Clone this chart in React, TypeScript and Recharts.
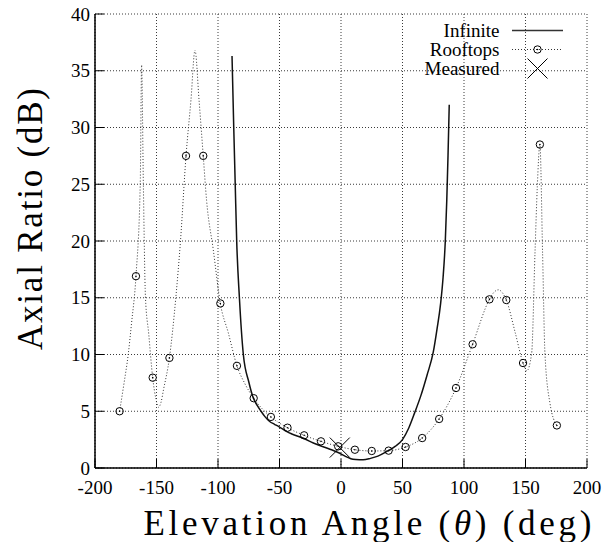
import React from 'react';
import { ComposedChart, Line, Scatter, XAxis, YAxis, CartesianGrid } from 'recharts';

const xTicks = [-200, -150, -100, -50, 0, 50, 100, 150, 200];
const yTicks = [0, 5, 10, 15, 20, 25, 30, 35, 40];

const seriesNames = ['Infinite', 'Rooftops', 'Measured'];

const infiniteX = [-88.6, -87.2, -86, -84.8, -82.6, -79.4, -75, -71.2, -68, -65, -62, -58, -54, -50, -44, -40, -30, -22.5, -10, -1, 4, 8, 12, 18, 24, 30, 37, 44, 50, 55, 60, 65, 70, 75, 78, 81, 83, 84.8, 86, 87, 88];
const infiniteY = [36.3, 30, 25, 20, 15, 10, 7.6, 6.14, 5.5, 5.0, 4.55, 4.1, 3.85, 3.6, 3.2, 3.0, 2.6, 2.2, 1.7, 1.3, 1.0, 0.82, 0.75, 0.72, 0.85, 1.05, 1.44, 1.9, 2.5, 3.5, 4.9, 6.4, 8.2, 10.2, 12.2, 14.5, 16.8, 20, 23.6, 27.5, 32];

const rooftopsLineX = [-180, -176.5, -173, -170.3, -166.7, -163.2, -162.1, -160.7, -159, -156.3, -153.1, -150.5, -148.4, -146.3, -144.3, -139.5, -134.3, -130.5, -126, -122, -118.7, -115.4, -112, -109.3, -103.8, -98.1, -91.6, -84.6, -78, -71, -57, -43.5, -30, -16.3, -2.3, 11.3, 25, 38.7, 52.5, 66, 79.8, 93.5, 107, 120.7, 124.5, 128, 131.5, 134.4, 141.7, 148, 151, 155, 157.7, 159.6, 161.7, 163.9, 165.8, 169.9, 175.5];
const rooftopsLineY = [5.0, 7.4, 10.0, 12.75, 16.9, 25.1, 35.5, 25.1, 15.1, 11.8, 7.96, 6.1, 5.35, 5.8, 6.9, 9.7, 15, 20, 27.5, 32.4, 36.8, 32.4, 27.5, 23.6, 19.2, 14.5, 11.9, 9.0, 7.4, 6.15, 4.5, 3.55, 2.88, 2.35, 1.91, 1.61, 1.5, 1.53, 1.85, 2.64, 4.32, 7.05, 10.9, 14.86, 15.5, 15.7, 15.4, 14.8, 11.9, 9.25, 8.55, 10.1, 18.9, 24.8, 28.5, 18.9, 10.1, 5.7, 3.75];

const rooftopsMarkX = [-180, -166.7, -153.1, -139.5, -126, -112, -98.1, -84.6, -71, -57, -43.5, -30, -16.3, -2.3, 11.3, 25, 38.7, 52.5, 66, 79.8, 93.5, 107, 120.7, 134.4, 148, 161.7, 175.5];
const rooftopsMarkY = [5.0, 16.9, 7.96, 9.7, 27.5, 27.5, 14.5, 9.0, 6.15, 4.5, 3.55, 2.88, 2.35, 1.91, 1.61, 1.5, 1.53, 1.85, 2.64, 4.32, 7.05, 10.9, 14.86, 14.8, 9.25, 28.5, 3.75];

const measuredX = [-1];
const measuredY = [1.8];

const pts = (xs: number[], ys: number[]) => xs.map((x, i) => ({ x, y: ys[i] }));
const infiniteData = pts(infiniteX, infiniteY);
const rooftopsLine = pts(rooftopsLineX, rooftopsLineY);
const rooftopsMarks = pts(rooftopsMarkX, rooftopsMarkY);
const measuredData = pts(measuredX, measuredY);

const FONT = 'Liberation Serif';
const W = 615;
const H = 542;

const CircleMark = (props: any) => {
  const { cx, cy } = props;
  if (cx == null || cy == null) return null;
  return (
    <g>
      <circle cx={cx} cy={cy} r={3.7} fill="none" stroke="#000" strokeWidth={1} />
      <circle cx={cx} cy={cy} r={0.8} fill="#000" />
    </g>
  );
};

const CrossMark = (props: any) => {
  const { cx, cy } = props;
  if (cx == null || cy == null) return null;
  const s = 10;
  return (
    <g stroke="#000" strokeWidth={1}>
      <line x1={cx - s} y1={cy - s} x2={cx + s} y2={cy + s} />
      <line x1={cx - s} y1={cy + s} x2={cx + s} y2={cy - s} />
    </g>
  );
};

const XTitle = (props: any) => {
  const vb = props.viewBox || {};
  const cx = vb.x + vb.width / 2 + 26.5;
  const y = vb.y + 67;
  return (
    <text x={cx} y={y} textAnchor="middle" fontFamily={FONT} fontSize={35} fill="#000" textLength={448} lengthAdjust="spacing">
      Elevation Angle (<tspan fontStyle="italic">θ</tspan>) (deg)
    </text>
  );
};

const YTitle = (props: any) => {
  const vb = props.viewBox || {};
  const x = vb.x + 7;
  const cy = vb.y + vb.height / 2 - 22;
  return (
    <text x={x} y={cy} transform={`rotate(-90, ${x}, ${cy})`} textAnchor="middle" fontFamily={FONT} fontSize={35} fill="#000" textLength={262} lengthAdjust="spacing">
      Axial Ratio (dB)
    </text>
  );
};

const LegendOverlay = () => {
  const textX = 499.5;
  const x1 = 512;
  const x2 = 563;
  const mx = (x1 + x2) / 2;
  return (
    <svg width={W} height={100} style={{ position: 'absolute', left: 0, top: 0, pointerEvents: 'none' }}>
      <text x={textX} y={36.7} textAnchor="end" fontFamily={FONT} fontSize={19}>{seriesNames[0]}</text>
      <line x1={x1} x2={x2} y1={30.5} y2={30.5} stroke="#333" strokeWidth={1.5} />
      <text x={textX} y={55.8} textAnchor="end" fontFamily={FONT} fontSize={19}>{seriesNames[1]}</text>
      <line x1={x1} x2={x2} y1={49.5} y2={49.5} stroke="#333" strokeWidth={1} strokeDasharray="1 2" />
      <CircleMark cx={mx} cy={49.5} />
      <text x={textX} y={75} textAnchor="end" fontFamily={FONT} fontSize={19}>{seriesNames[2]}</text>
      <CrossMark cx={mx} cy={68.5} />
    </svg>
  );
};

export default function App() {
  return (
    <div style={{ position: 'absolute', left: 0, top: 0, width: W, height: H, background: '#fff', fontFamily: FONT }}>
      <ComposedChart width={W} height={H} margin={{ top: 14, right: 28, bottom: 44, left: 35 }} style={{ fontFamily: FONT }}>
        <CartesianGrid xAxisId="b" yAxisId="l" stroke="#3a3a3a" strokeDasharray="1 2" strokeWidth={1} />
        <XAxis
          xAxisId="b"
          dataKey="x"
          type="number"
          domain={[-200, 200]}
          ticks={xTicks}
          allowDataOverflow
          height={30}
          tickSize={-9}
          tickMargin={22}
          axisLine={{ stroke: '#000', strokeWidth: 1.5 }}
          tickLine={{ stroke: '#000', strokeWidth: 1 }}
          tick={{ fontSize: 19, fill: '#000', fontFamily: FONT }}
          label={<XTitle />}
        />
        <XAxis
          xAxisId="t"
          dataKey="x"
          type="number"
          orientation="top"
          domain={[-200, 200]}
          ticks={xTicks}
          allowDataOverflow
          height={0}
          mirror
          tickSize={9}
          tick={false}
          axisLine={{ stroke: '#000', strokeWidth: 1.5 }}
          tickLine={{ stroke: '#000', strokeWidth: 1 }}
        />
        <YAxis
          yAxisId="l"
          dataKey="y"
          type="number"
          domain={[0, 40]}
          ticks={yTicks}
          allowDataOverflow
          width={60}
          tickSize={-9}
          tickMargin={14}
          axisLine={{ stroke: '#000', strokeWidth: 1.5 }}
          tickLine={{ stroke: '#000', strokeWidth: 1 }}
          tick={{ fontSize: 19, fill: '#000', fontFamily: FONT }}
          label={<YTitle />}
        />
        <YAxis
          yAxisId="r"
          dataKey="y"
          type="number"
          orientation="right"
          domain={[0, 40]}
          ticks={yTicks}
          allowDataOverflow
          width={0}
          mirror
          tickSize={9}
          tick={false}
          axisLine={{ stroke: '#000', strokeWidth: 1.5 }}
          tickLine={{ stroke: '#000', strokeWidth: 1 }}
        />
        <Line
          xAxisId="b"
          yAxisId="l"
          name={seriesNames[1]}
          data={rooftopsLine}
          dataKey="y"
          type="monotone"
          stroke="#333"
          strokeWidth={1}
          strokeDasharray="1 2"
          dot={false}
          activeDot={false}
          isAnimationActive={false}
        />
        <Scatter
          xAxisId="b"
          yAxisId="l"
          name={seriesNames[1] + ' points'}
          data={rooftopsMarks}
          dataKey="y"
          shape={CircleMark}
          isAnimationActive={false}
        />
        <Line
          xAxisId="b"
          yAxisId="l"
          name={seriesNames[0]}
          data={infiniteData}
          dataKey="y"
          type="monotone"
          stroke="#111"
          strokeWidth={1.5}
          dot={false}
          activeDot={false}
          isAnimationActive={false}
        />
        <Scatter
          xAxisId="b"
          yAxisId="l"
          name={seriesNames[2]}
          data={measuredData}
          dataKey="y"
          shape={CrossMark}
          isAnimationActive={false}
        />
      </ComposedChart>
      <LegendOverlay />
    </div>
  );
}
